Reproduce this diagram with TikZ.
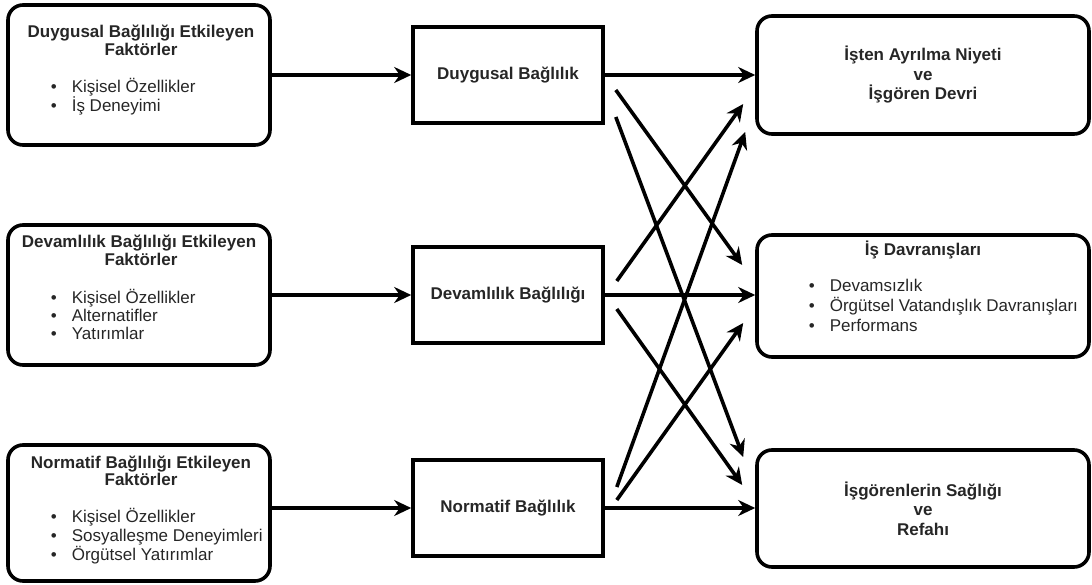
\documentclass[tikz,border=0pt]{standalone}
\usepackage{fontspec}
\setmainfont{Liberation Sans}
\usetikzlibrary{arrows.meta,calc}
\definecolor{txt}{RGB}{38,38,38}
\begin{document}
\begin{tikzpicture}[x=1pt,y=-1pt,line width=3.6pt,
  factorbox/.style={draw,rounded corners=15pt,minimum width=262pt,minimum height=140pt,inner sep=0pt},
  commitbox/.style={draw,minimum width=190pt,minimum height=96pt,text=txt,
    font=\bfseries\fontsize{17}{19}\selectfont},
  outcomebox/.style={draw,rounded corners=15pt,minimum width=332pt,minimum height=118pt,
    align=center,text=txt,font=\bfseries\fontsize{17}{19.5}\selectfont},
  heading/.style={anchor=base,inner sep=0pt,text=txt,font=\bfseries\fontsize{17}{19}\selectfont},
  item/.style={anchor=base west,inner sep=0pt,text=txt,font=\fontsize{17}{19}\selectfont},
  flow/.style={-{Stealth[length=17pt,width=16pt]},line width=3.6pt}]
\useasboundingbox (0,0) rectangle (1092,585);

% antecedent factor boxes
\node[factorbox] (L1) at (139,75) {};
\node[factorbox] (L2) at (139,295) {};
\node[factorbox,minimum height=136pt] (L3) at (139,513) {};

\node[heading] (L1h1) at (141,38) {Duygusal Bağlılığı Etkileyen};
\node[heading] (L1h2) at (141,56) {Faktörler};
\node[item] (L1b1) at (49,93) {\textbullet};
\node[item] (L1t1) at (70,93) {Kişisel Özellikler};
\node[item] (L1b2) at (49,112) {\textbullet};
\node[item] (L1t2) at (70,112) {İş Deneyimi};

\node[heading] (L2h1) at (139,248) {Devamlılık Bağlılığı Etkileyen};
\node[heading] (L2h2) at (141,266) {Faktörler};
\node[item] (L2b1) at (49,303) {\textbullet};
\node[item] (L2t1) at (70,303) {Kişisel Özellikler};
\node[item] (L2b2) at (49,321) {\textbullet};
\node[item] (L2t2) at (70,321) {Alternatifler};
\node[item] (L2b3) at (49,339) {\textbullet};
\node[item] (L2t3) at (70,339) {Yatırımlar};

\node[heading] (L3h1) at (141,468) {Normatif Bağlılığı Etkileyen};
\node[heading] (L3h2) at (141,485) {Faktörler};
\node[item] (L3b1) at (49,522) {\textbullet};
\node[item] (L3t1) at (70,522) {Kişisel Özellikler};
\node[item] (L3b2) at (49,541) {\textbullet};
\node[item] (L3t2) at (70,541) {Sosyalleşme Deneyimleri};
\node[item] (L3b3) at (49,560) {\textbullet};
\node[item] (L3t3) at (70,560) {Örgütsel Yatırımlar};

% commitment components
\node[commitbox] (M1) at (508,75) {Duygusal Bağlılık};
\node[commitbox] (M2) at (508,295) {Devamlılık Bağlılığı};
\node[commitbox] (M3) at (508,508) {Normatif Bağlılık};

% outcomes
\node[outcomebox] (R1) at (923,75) {İşten Ayrılma Niyeti\\ve\\İşgören Devri};
\node[outcomebox,minimum height=122pt] (R2) at (923,296) {};
\node[outcomebox,minimum height=117pt] (R3) at (923,508.5) {İşgörenlerin Sağlığı\\ve\\Refahı};

\node[heading] (R2h) at (923,256) {İş Davranışları};
\node[item] (R2b1) at (807,291) {\textbullet};
\node[item] (R2t1) at (828,291) {Devamsızlık};
\node[item] (R2b2) at (807,312) {\textbullet};
\node[item] (R2t2) at (828,312) {Örgütsel Vatandışlık Davranışları};
\node[item] (R2b3) at (807,331) {\textbullet};
\node[item] (R2t3) at (828,331) {Performans};

% factors to components
\draw[flow] (L1.east) -- (M1.west);
\draw[flow] (L2.east) -- (M2.west);
\draw[flow] (L3.east |- M3.west) -- (M3.west);

% components to outcomes, straight across
\draw[flow] (M1.east) -- (R1.west);
\draw[flow] (M2.east) -- (R2.west |- M2.east);
\draw[flow] (M3.east) -- (R3.west |- M3.east);

% crossing links
\coordinate (d1s) at ($(M1.east)+(11,15)$);
\coordinate (d1e) at ($(R2.west)+(-13,-31)$);
\coordinate (d2s) at ($(M1.east)+(11,42)$);
\coordinate (d2e) at ($(R3.west)+(-12,-51.5)$);
\coordinate (d3s) at ($(M2.east)+(12,-14)$);
\coordinate (d3e) at ($(R1.west)+(-12,29)$);
\coordinate (d4s) at ($(M2.east)+(12,14)$);
\coordinate (d4e) at ($(R3.west)+(-13,-23.5)$);
\coordinate (d5s) at ($(M3.east)+(12,-21)$);
\coordinate (d5e) at ($(R1.west)+(-10,57)$);
\coordinate (d6s) at ($(M3.east)+(12,-8)$);
\coordinate (d6e) at ($(R2.west)+(-12,27)$);
\draw[flow] (d1s) -- (d1e);
\draw[flow] (d2s) -- (d2e);
\draw[flow] (d3s) -- (d3e);
\draw[flow] (d4s) -- (d4e);
\draw[flow] (d5s) -- (d5e);
\draw[flow] (d6s) -- (d6e);
\end{tikzpicture}
\end{document}
